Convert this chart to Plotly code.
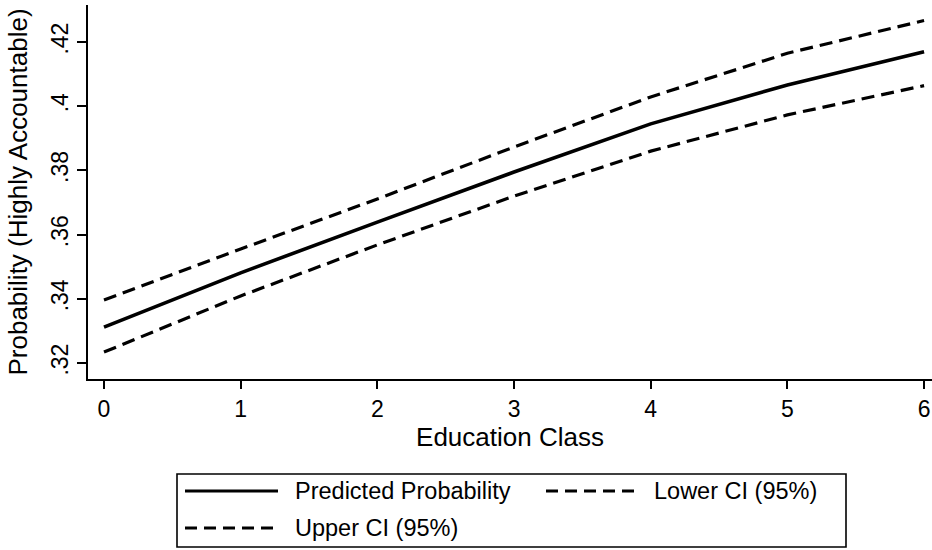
import plotly.graph_objects as go

# Predicted probability of being "highly accountable" by education class,
# with 95% confidence bounds
education_class = [0, 1, 2, 3, 4, 5, 6]
predicted = [0.3312, 0.3481, 0.3639, 0.3795, 0.3945, 0.4066, 0.4170]
lower_ci = [0.3234, 0.3409, 0.3568, 0.3720, 0.3860, 0.3973, 0.4064]
upper_ci = [0.3396, 0.3555, 0.3711, 0.3873, 0.4029, 0.4165, 0.4267]

x_ticks = [0, 1, 2, 3, 4, 5, 6]
y_ticks = [0.32, 0.34, 0.36, 0.38, 0.40, 0.42]
y_tick_labels = [".32", ".34", ".36", ".38", ".4", ".42"]

series_names = ["Predicted Probability", "Lower CI (95%)", "Upper CI (95%)"]

W, H = 932, 550
M_L, M_R, M_T, M_B = 88, 0, 5, 171
FONT = "Liberation Sans, Arial, Helvetica, sans-serif"
DASH = "13px,7px"

fig = go.Figure()
fig.add_trace(go.Scatter(x=education_class, y=predicted, mode="lines",
                         name=series_names[0],
                         line=dict(color="black", width=3.6)))
fig.add_trace(go.Scatter(x=education_class, y=lower_ci, mode="lines",
                         name=series_names[1],
                         line=dict(color="black", width=3.2, dash=DASH)))
fig.add_trace(go.Scatter(x=education_class, y=upper_ci, mode="lines",
                         name=series_names[2],
                         line=dict(color="black", width=3.2, dash=DASH)))

# pixel -> paper helpers for the hand-built legend box
pw = W - M_L - M_R
ph = H - M_T - M_B


def px(x):
    return (x - M_L) / pw


def py(y):
    return (H - M_B - y) / ph


shapes = [dict(type="rect", xref="paper", yref="paper",
               x0=px(177), x1=px(846), y0=py(474), y1=py(547),
               line=dict(color="black", width=1.6), fillcolor="white")]
annotations = []

legend_rows = [
    (series_names[0], 185, 278, 293, 491, None),
    (series_names[1], 546, 639, 652, 491, "12px,7px"),
    (series_names[2], 185, 278, 293, 528, "12px,7px"),
]
for name, sx0, sx1, tx, ty, dash in legend_rows:
    line = dict(color="black", width=2.8)
    if dash:
        line["dash"] = dash
    shapes.append(dict(type="line", xref="paper", yref="paper",
                       x0=px(sx0), x1=px(sx1), y0=py(ty), y1=py(ty), line=line))
    annotations.append(dict(xref="paper", yref="paper", x=px(tx), y=py(ty),
                            xanchor="left", yanchor="middle", showarrow=False,
                            text=name, font=dict(size=23.5, color="black", family=FONT)))

fig.update_layout(
    width=W, height=H,
    margin=dict(l=M_L, r=M_R, t=M_T, b=M_B),
    paper_bgcolor="white", plot_bgcolor="white",
    showlegend=False,
    font=dict(family=FONT, color="black"),
    shapes=shapes,
    annotations=annotations,
)

fig.update_xaxes(
    range=[-0.117, 6.058], tickvals=x_ticks,
    showgrid=False, zeroline=False,
    showline=True, linecolor="black", linewidth=2,
    ticks="outside", ticklen=8, tickwidth=2, tickcolor="black",
    tickfont=dict(size=23, family=FONT),
    title=dict(text="Education Class", font=dict(size=26, family=FONT), standoff=6),
)
fig.update_yaxes(
    range=[0.31502, 0.43153], tickvals=y_ticks, ticktext=y_tick_labels,
    tickangle=-90,
    showgrid=False, zeroline=False,
    showline=True, linecolor="black", linewidth=2,
    ticks="outside", ticklen=9, tickwidth=2, tickcolor="black",
    tickfont=dict(size=23, family=FONT),
    title=dict(text="Probability (Highly Accountable)", font=dict(size=26, family=FONT),
               standoff=12),
)

fig.write_html("out.html")
